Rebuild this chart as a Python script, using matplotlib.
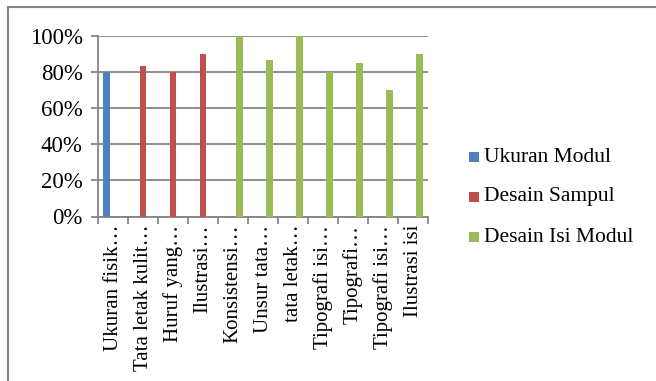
import matplotlib
matplotlib.use("Agg")
import matplotlib.pyplot as plt
from matplotlib.patches import Rectangle
from matplotlib.lines import Line2D
import numpy as np

plt.rcParams['font.family'] = ['Liberation Serif', 'DejaVu Serif']

categories = ["Ukuran fisik…", "Tata letak kulit…", "Huruf yang…", "Ilustrasi…",
              "Konsistensi…", "Unsur tata…", "tata letak…", "Tipografi isi…",
              "Tipografi…", "Tipografi isi…", "Ilustrasi isi"]
series_names = ["Ukuran Modul", "Desain Sampul", "Desain Isi Modul"]
ukuran_modul = [0.80, None, None, None, None, None, None, None, None, None, None]
desain_sampul = [None, 0.833, 0.80, 0.90, None, None, None, None, None, None, None]
desain_isi = [None, None, None, None, 1.00, 0.867, 1.00, 0.80, 0.85, 0.70, 0.90]
colors = ["#4F81BD", "#C0504D", "#9BBB59"]
yticks = [0, 0.2, 0.4, 0.6, 0.8, 1.0]
ytick_labels = ["0%", "20%", "40%", "60%", "80%", "100%"]

W, H = 656, 381
fig = plt.figure(figsize=(W / 100, H / 100), dpi=100)
fig.patch.set_facecolor("white")

left_px, right_px, top_px, bottom_px = 98, 428, 36, 216.5
ax = fig.add_axes([left_px / W, 1 - bottom_px / H, (right_px - left_px) / W, (bottom_px - top_px) / H])

grid_c = "#868686"
bw = 0.222
offsets = [-bw, 0, bw]
for vals, off, col in zip([ukuran_modul, desain_sampul, desain_isi], offsets, colors):
    xs = [i + off for i, v in enumerate(vals) if v is not None]
    ys = [v for v in vals if v is not None]
    ax.bar(xs, ys, width=bw, color=col, zorder=3)

ax.set_xlim(-0.5, len(categories) - 0.5)
ax.set_ylim(0, 1.0)
ax.set_yticks(yticks)
ax.set_yticklabels(ytick_labels, fontsize=16.5)
ax.yaxis.grid(True, color=grid_c, linewidth=1.3, zorder=0)
ax.set_axisbelow(True)

ax.set_xticks(np.arange(len(categories)))
ax.set_xticklabels(categories, rotation=90, fontsize=15, ha="center", va="top")
ax.set_xticks(np.arange(-0.5, len(categories), 1.0), minor=True)
ax.tick_params(axis="x", which="major", length=0, pad=6)
ax.tick_params(axis="x", which="minor", length=5, color=grid_c, width=1.3)
ax.tick_params(axis="y", length=5, color=grid_c, width=1.3, pad=6)

for s in ["top", "right"]:
    ax.spines[s].set_visible(False)
for s in ["left", "bottom"]:
    ax.spines[s].set_color(grid_c)
    ax.spines[s].set_linewidth(1.3)

# legend
leg_y = [157, 197, 237]
for name, col, y in zip(series_names, colors, leg_y):
    fig.patches.append(Rectangle((469 / W, 1 - (y + 5) / H), 10 / W, 10 / H,
                                 transform=fig.transFigure, facecolor=col, edgecolor="none"))
    fig.text(484 / W, 1 - y / H, name, fontsize=15.5, va="center", ha="left")

# chart border
fig.add_artist(Line2D([8 / W, 1.0], [1 - 7 / H, 1 - 7 / H], transform=fig.transFigure, color=grid_c, linewidth=1.5))
fig.add_artist(Line2D([8 / W, 8 / W], [1 - 7 / H, 0], transform=fig.transFigure, color=grid_c, linewidth=1.5))

fig.savefig("out.png", dpi=100)
